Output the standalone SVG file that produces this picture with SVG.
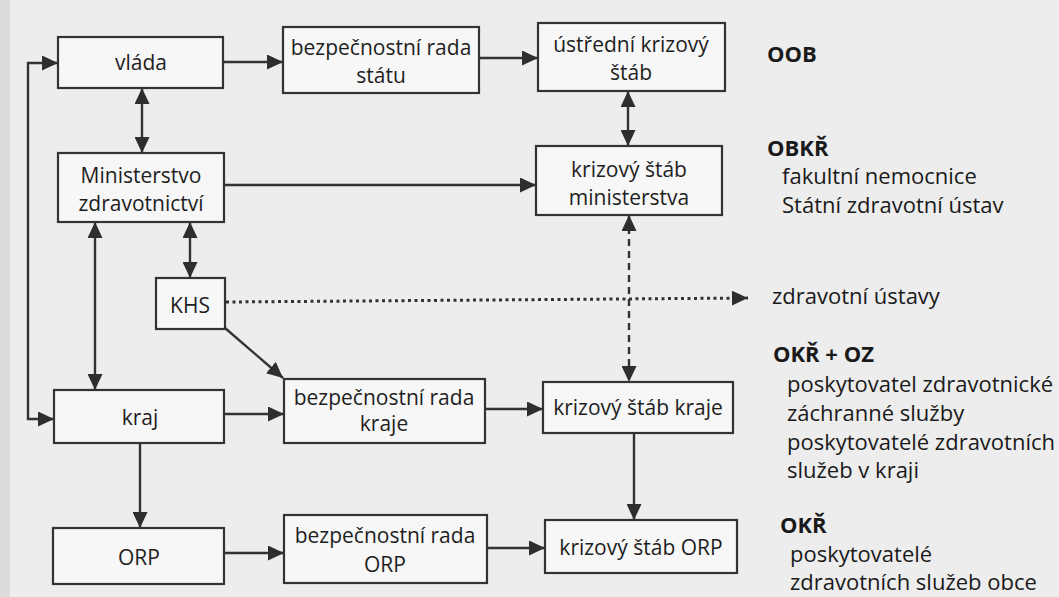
<svg xmlns="http://www.w3.org/2000/svg" width="1059" height="597" viewBox="0 0 1059 597">
<defs>
<marker id="ah" markerUnits="userSpaceOnUse" markerWidth="17" markerHeight="15" refX="16" refY="7.5" orient="auto-start-reverse">
<path d="M0,0 L16,7.5 L0,15 z" fill="#2e2e2e"/>
</marker>
</defs>
<style>
.box{fill:#f7f7f7;stroke:#333;stroke-width:2.2}
.t{font-family:"Open Sans","Noto Sans",sans-serif;font-size:21px;fill:#1e1e1e;text-anchor:middle}
.r{font-family:"Open Sans","Noto Sans",sans-serif;font-size:22px;fill:#1a1a1a}
.b{font-weight:bold}
.c{fill:none;stroke:#333;stroke-width:2.4}
.dash{stroke-dasharray:7 5}
.dot{stroke-dasharray:3 3.5;stroke-width:3}
</style>
<rect width="1059" height="597" fill="#ededed"/>
<rect width="10" height="597" fill="#dcdcdc"/>

<g id="connectors">
<path class="c" d="M58,63 H28 V419 H54" marker-start="url(#ah)" marker-end="url(#ah)"/>
<path class="c" d="M223,62 H283" marker-end="url(#ah)"/>
<path class="c" d="M479,58 H538" marker-end="url(#ah)"/>
<path class="c" d="M142,88 V153" marker-start="url(#ah)" marker-end="url(#ah)"/>
<path class="c" d="M628,91 V146" marker-start="url(#ah)" marker-end="url(#ah)"/>
<path class="c" d="M224,185 H536" marker-end="url(#ah)"/>
<path class="c" d="M95,222 V390" marker-start="url(#ah)" marker-end="url(#ah)"/>
<path class="c" d="M190,222 V278" marker-start="url(#ah)" marker-end="url(#ah)"/>
<path class="c" d="M225,328 L283,378" marker-end="url(#ah)"/>
<path class="c dot" d="M226,302 L748,298" marker-end="url(#ah)"/>
<path class="c dash" d="M629,215 V382" marker-start="url(#ah)" marker-end="url(#ah)"/>
<path class="c" d="M224,414 H284" marker-end="url(#ah)"/>
<path class="c" d="M485,409 H543" marker-end="url(#ah)"/>
<path class="c" d="M140,443 V528" marker-end="url(#ah)"/>
<path class="c" d="M634,433 V520" marker-end="url(#ah)"/>
<path class="c" d="M224,553 H284" marker-end="url(#ah)"/>
<path class="c" d="M487,548 H545" marker-end="url(#ah)"/>
</g>

<g id="vlada"><rect class="box" x="58" y="37" width="165" height="51"/><text class="t" x="141" y="70">vláda</text></g>
<g id="ministerstvo"><rect class="box" x="58" y="153" width="166" height="69"/><text class="t" x="141" y="183">Ministerstvo</text><text class="t" x="141" y="211">zdravotnictví</text></g>
<g id="khs"><rect class="box" x="156" y="278" width="69" height="51"/><text class="t" x="190" y="313">KHS</text></g>
<g id="kraj"><rect class="box" x="54" y="390" width="170" height="53"/><text class="t" x="140" y="425">kraj</text></g>
<g id="orp"><rect class="box" x="53" y="528" width="171" height="56"/><text class="t" x="139" y="565">ORP</text></g>
<g id="brs"><rect class="box" x="283" y="27" width="196" height="66"/><text class="t" x="381" y="55">bezpečnostní rada</text><text class="t" x="381" y="83">státu</text></g>
<g id="uks"><rect class="box" x="538" y="23" width="187" height="68"/><text class="t" x="631" y="52">ústřední krizový</text><text class="t" x="631" y="80">štáb</text></g>
<g id="ksm"><rect class="box" x="536" y="146" width="186" height="69"/><text class="t" x="629" y="177">krizový štáb</text><text class="t" x="629" y="205">ministerstva</text></g>
<g id="brk"><rect class="box" x="284" y="379" width="201" height="64"/><text class="t" x="384" y="405">bezpečnostní rada</text><text class="t" x="384" y="431">kraje</text></g>
<g id="ksk"><rect class="box" x="543" y="382" width="190" height="51"/><text class="t" x="638" y="415">krizový štáb kraje</text></g>
<g id="bro"><rect class="box" x="284" y="515" width="203" height="68"/><text class="t" x="385" y="543">bezpečnostní rada</text><text class="t" x="385" y="572">ORP</text></g>
<g id="kso"><rect class="box" x="545" y="520" width="192" height="53"/><text class="t" x="641" y="555">krizový štáb ORP</text></g>

<g id="labels">
<text class="r b" x="767" y="62">OOB</text>
<text class="r b" x="767" y="156">OBKŘ</text>
<text class="r" x="782" y="184">fakultní nemocnice</text>
<text class="r" x="782" y="213">Státní zdravotní ústav</text>
<text class="r" x="772" y="304">zdravotní ústavy</text>
<text class="r b" x="773" y="362">OKŘ + OZ</text>
<text class="r" x="787" y="392">poskytovatel zdravotnické</text>
<text class="r" x="787" y="421">záchranné služby</text>
<text class="r" x="787" y="450">poskytovatelé zdravotních</text>
<text class="r" x="787" y="478">služeb v kraji</text>
<text class="r b" x="780" y="533">OKŘ</text>
<text class="r" x="790" y="562">poskytovatelé</text>
<text class="r" x="790" y="590">zdravotních služeb obce</text>
</g>
</svg>
